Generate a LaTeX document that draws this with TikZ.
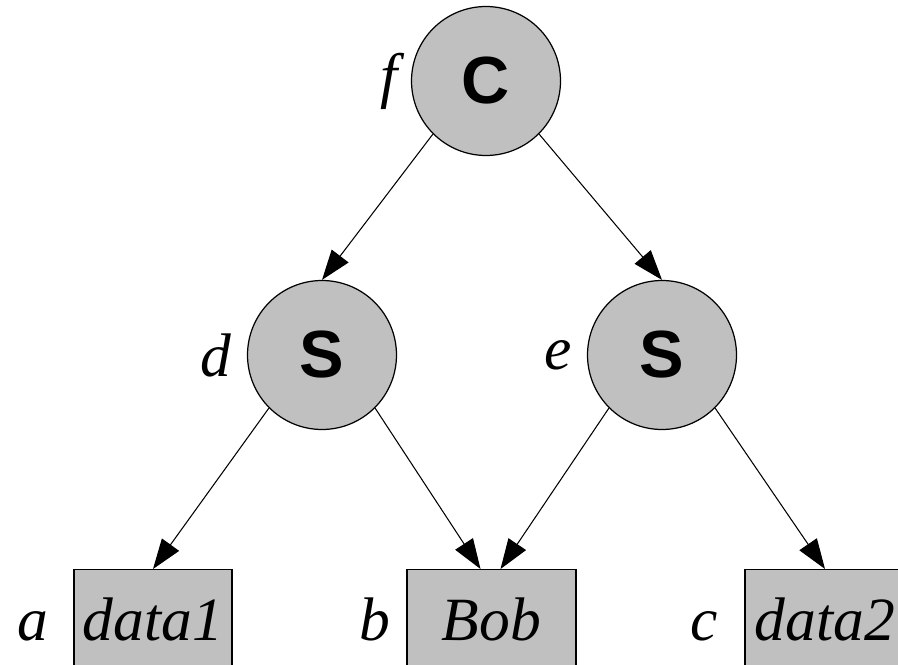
\documentclass[tikz,border=0pt]{standalone}
\usepackage{fontspec}
\setmainfont{Liberation Serif}
\newfontfamily\opfont{Liberation Sans}
\usetikzlibrary{arrows.meta,positioning}
\definecolor{nodegray}{RGB}{192,192,192}
\tikzset{
  op/.style={draw, circle, minimum size=2.98cm, inner sep=0pt, fill=nodegray,
             line width=0.7pt, font=\opfont\bfseries\fontsize{38}{40}\selectfont},
  leaf/.style={draw, rectangle, fill=nodegray, line width=0.7pt, inner sep=0pt,
               text height=1.42cm, text depth=0.6cm,
               font=\itshape\fontsize{35}{40}\selectfont},
  lbl/.style={font=\itshape\fontsize{35}{40}\selectfont, inner sep=0pt},
  edge/.style={-{Triangle[length=6mm, width=4.2mm]}, line width=0.6pt},
}

\begin{document}
\begin{tikzpicture}[x=0.02cm, y=0.02cm]
  \clip (0,0) rectangle (898,664);
  \node[op] (f) at (486,583) {C};
  \node[op] (d) at (322,309) {S};
  \node[op] (e) at (662,309) {S};
  \node[leaf, minimum width=3.16cm, anchor=north] (a) at (153,95) {data1};
  \node[leaf, minimum width=3.38cm, anchor=north] (b) at (491.5,95) {Bob};
  \node[leaf, minimum width=3.2cm, anchor=north] (c) at (825,95) {data2};
  \node[lbl, left=0.25cm of f] (lf) {f};
  \node[lbl, left=0.3cm of d] (ld) {d};
  \node[lbl, left=0.3cm of e] (le) {e};
  \node[lbl, anchor=base east] (la) at ([xshift=-0.5cm]a.base west) {a};
  \node[lbl, anchor=base east] (lb) at ([xshift=-0.32cm]b.base west) {b};
  \node[lbl, anchor=base east] (lc) at ([xshift=-0.52cm]c.base west) {c};
  \draw[edge] (f.south west) -- (d.north);
  \draw[edge] (f.south east) -- (e.north);
  \draw[edge] (d.south west) -- (a.north);
  \draw[edge] (d.south east) -- ([xshift=-0.22cm]b.north);
  \draw[edge] (e.south west) -- ([xshift=0.18cm]b.north);
  \draw[edge] (e.south east) -- (c.north);
\end{tikzpicture}
\end{document}
